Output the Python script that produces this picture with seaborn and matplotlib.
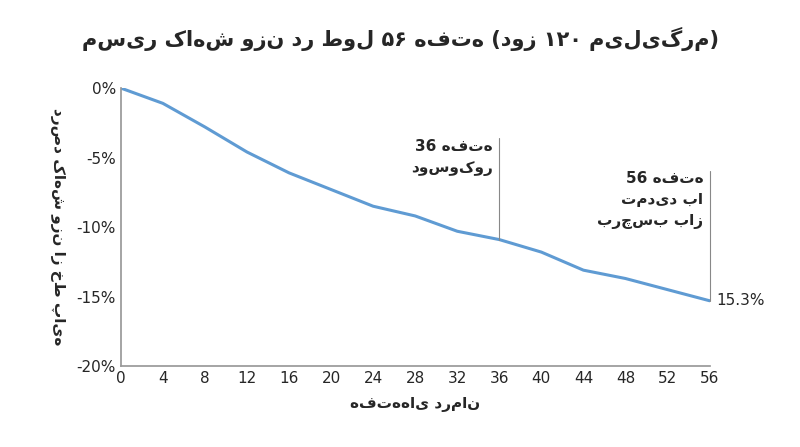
import matplotlib
matplotlib.use("Agg")
import matplotlib.pyplot as plt
import seaborn as sns
import pandas as pd

weeks = [0, 4, 8, 12, 16, 20, 24, 28, 32, 36, 40, 44, 48, 52, 56]
loss = [0, -1.1, -2.8, -4.6, -6.1, -7.3, -8.5, -9.2, -10.3, -10.9, -11.8, -13.1, -13.7, -14.5, -15.3]
yticks = [0, -5, -10, -15, -20]
ytick_labels = ["0%", "-5%", "-10%", "-15%", "-20%"]
title = "مسیر کاهش وزن در طول ۵۶ هفته (دوز ۱۲۰ میلی‌گرم)"
xlabel = "هفته‌های درمان"
ylabel = "درصد کاهش وزن از خط پایه"
ann36 = "36 هفته\nدوسوکور"
ann56 = "56 هفته\nتمدید با\nبرچسب باز"
end_label = "15.3%"

sns.set_theme(style="white")
plt.rcParams['font.family'] = ['DejaVu Sans']
df = pd.DataFrame({"week": weeks, "loss": loss})
fig = plt.figure(figsize=(8, 4.47), dpi=100)
ax = fig.add_axes([0.151, 0.181, 0.736, 0.622])
sns.lineplot(data=df, x="week", y="loss", ax=ax, color="#5f9bd3", linewidth=2.2)
ax.set_xlim(0, 56)
ax.set_ylim(-20, 0)
ax.set_xticks(list(range(0, 57, 4)))
ax.set_yticks(yticks)
ax.set_yticklabels(ytick_labels)
ax.tick_params(labelsize=11, length=0)
for s in ["top", "right"]:
    ax.spines[s].set_visible(False)
for s in ["left", "bottom"]:
    ax.spines[s].set_color("#999999")
ax.set_xlabel(xlabel, fontsize=11, fontweight="bold", labelpad=8)
ax.set_ylabel(ylabel, fontsize=11, fontweight="bold", rotation=270, labelpad=18)
ax.yaxis.set_label_coords(-0.12, 0.5)
fig.suptitle(title, fontsize=15, fontweight="bold", y=0.94)

ax.plot([36, 36], [loss[9], -3.6], color="#888888", lw=0.8, clip_on=False)
ax.text(35.4, -3.7, ann36, ha="right", va="top", fontsize=11, fontweight="bold", linespacing=1.5)
ax.plot([56, 56], [loss[14], -6.0], color="#888888", lw=0.8, clip_on=False)
ax.text(55.4, -6.0, ann56, ha="right", va="top", fontsize=11, fontweight="bold", linespacing=1.5)
ax.text(56.6, -15.3, end_label, ha="left", va="center", fontsize=11)
fig.savefig("out.png", dpi=100)
